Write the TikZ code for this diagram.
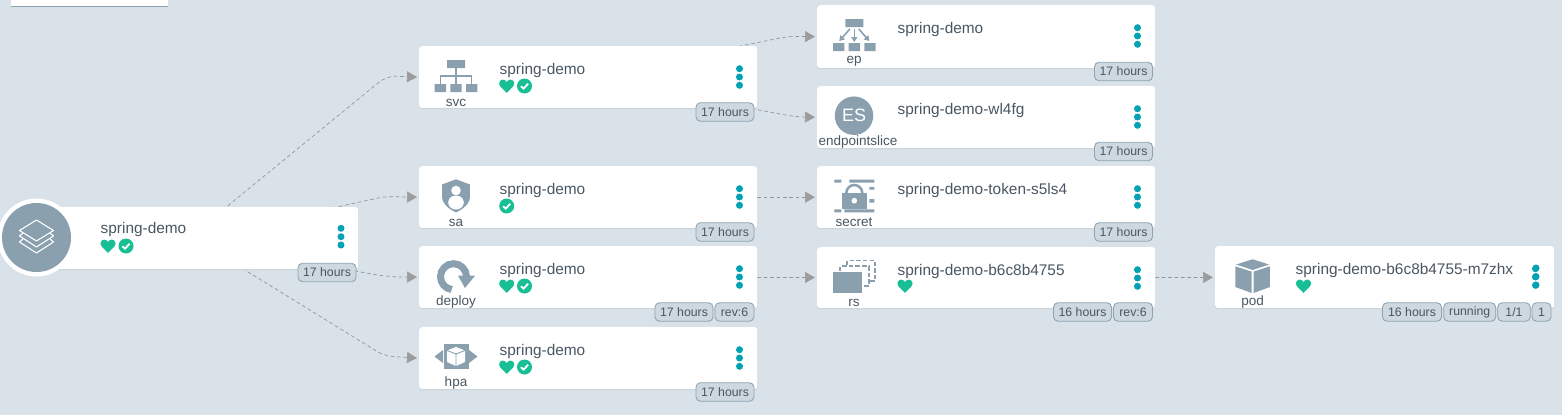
\documentclass[tikz,border=0pt]{standalone}
\usepackage{fontspec}
\setmainfont{Liberation Sans}
\usetikzlibrary{arrows.meta,shadows}
\definecolor{bgc}{HTML}{D9E2E9}
\definecolor{inkc}{HTML}{495763}
\definecolor{iconc}{HTML}{8AA0AE}
\definecolor{tealc}{HTML}{00A2B3}
\definecolor{greenc}{HTML}{18BE94}
\definecolor{tagf}{HTML}{CDD8E1}
\definecolor{tagd}{HTML}{8FA4B1}
\definecolor{edgec}{HTML}{8E979C}
\definecolor{tipc}{HTML}{9C9C9C}
\definecolor{shadc}{HTML}{C3CFD8}
\pgfdeclarelayer{background}
\pgfsetlayers{background,main}
\tikzset{
  card/.style={fill=white,rounded corners=3pt,inner sep=0pt,anchor=north west,
    copy shadow={shadow xshift=0pt,shadow yshift=-1pt,fill=shadc,draw=none,opacity=1}},
  cardname/.style={text=inkc,font=\fontsize{15.4}{17}\selectfont,anchor=west,inner sep=0pt},
  kindlabel/.style={text=inkc,font=\fontsize{13.5}{15}\selectfont,inner sep=0pt},
  tagbox/.style={fill=tagf,draw=tagd,line width=.9pt,rounded corners=4.5pt,text=inkc,
    font=\fontsize{12.3}{14}\selectfont,inner sep=0pt,minimum height=18.5pt},
  flow/.style={draw=edgec,line width=.7pt,dash pattern=on 3.6pt off 2.8pt,shorten >=2pt,
    -{Triangle[length=10pt,width=11pt,color=tipc,fill=tipc]}},
  dotc/.style={fill=tealc,draw=none},
  glyph/.style={fill=iconc,draw=none}
}
% card: name, x, top, width, height, label text
\newcommand\cardbox[6]{%
  \node[card,minimum width=#4pt,minimum height=#5pt] (#1) at (#2,#3) {};
  \begin{scope}[shift={(#2,#3)}]
    \node[cardname] (#1name) at (80.5,24.2) {#6};
    \fill[dotc] (320.5,22.7) circle (3.5pt) (320.5,31) circle (3.5pt) (320.5,39.3) circle (3.5pt);
  \end{scope}}
\newcommand\kindtext[4]{\node[kindlabel] (#1) at (#2,#3) {#4};}
\newcommand\hearticon[2]{%
  \fill[greenc,shift={(#1,#2)}] (0,6.8) -- (-6.3,0.6) .. controls (-9.3,-2.8) and (-6.3,-6.8) .. (-3.6,-6.4)
    .. controls (-2,-6.2) and (-0.8,-5.2) .. (0,-4) .. controls (0.8,-5.2) and (2,-6.2) .. (3.6,-6.4)
    .. controls (6.3,-6.8) and (9.3,-2.8) .. (6.3,0.6) -- cycle;}
\newcommand\checkicon[2]{%
  \fill[greenc] (#1,#2) circle (7.5pt);
  \draw[white,line width=1.8pt,shift={(#1,#2)}] (-3.6,0.2) -- (-1,2.6) -- (3.6,-2.2);}
\newcommand\tagat[5]{\node[tagbox,minimum width=#3pt] (#1) at (#2,#4) {#5};}
\begin{document}
\begin{tikzpicture}[x=1pt,y=-1pt]
\useasboundingbox (0,0) rectangle (1562,415);
% top-left panel
\node[fill=white,inner sep=0pt,minimum width=157pt,minimum height=6pt,anchor=north west,
  copy shadow={shadow xshift=0pt,shadow yshift=-1pt,fill=iconc,draw=none,opacity=1}] (panel) at (11,0) {};

% application
\node[card,minimum width=308pt,minimum height=62pt] (app) at (50,207) {};
\fill[white] (36.5,237.5) circle (39pt);
\node[circle,fill=iconc,minimum size=69pt,inner sep=0pt] (appicon) at (36.5,237.5) {};
\draw[white,line width=1.1pt,line join=round] (36.5,220) -- (53.5,230.5) -- (36.5,241) -- (19.5,230.5) -- cycle;
\draw[white,line width=1.1pt,line join=round] (23,233) -- (19.5,236) -- (36.5,247) -- (53.5,236) -- (50,233);
\draw[white,line width=1.1pt,line join=round] (23,239) -- (19.5,242) -- (36.5,253) -- (53.5,242) -- (50,239);
\node[cardname] (appname) at (100.5,229.2) {spring-demo};
\hearticon{108}{246}\checkicon{126}{246}
\fill[dotc] (341,228.3) circle (3.5pt) (341,236.7) circle (3.5pt) (341,245) circle (3.5pt);
\tagat{apptag}{327}{58}{272.5}{17 hours}

% svc
\cardbox{svc}{419}{46}{338}{62}{spring-demo}
\hearticon{506.7}{86}\checkicon{524.5}{86}
\kindtext{svckind}{456}{102.5}{svc}
\begin{scope}[shift={(456,46)}]
  \fill[glyph] (-9,14) rectangle (9,22) (-21.3,38) rectangle (-10,46) (-5.7,38) rectangle (5.7,46) (10,38) rectangle (21.3,46);
  \draw[iconc,line width=1.6pt] (0,22) -- (0,38) (-15.5,38) -- (-15.5,30) -- (15.5,30) -- (15.5,38);
\end{scope}
\tagat{svctag}{725}{58}{112}{17 hours}

% sa
\cardbox{sa}{419}{166}{338}{62}{spring-demo}
\checkicon{506.7}{206}
\kindtext{sakind}{456}{222.5}{sa}
\begin{scope}[shift={(456,166)}]
  \begin{scope}
    \clip (0,13.3) -- (14,18.5) -- (14,30) .. controls (14,38) and (7,43) .. (0,46.5) .. controls (-7,43) and (-14,38) .. (-14,30) -- (-14,18.5) -- cycle;
    \fill[glyph] (-15,12) rectangle (15,48);
    \fill[white] (0,36.5) ellipse (7.8pt and 7pt);
  \end{scope}
  \fill[white] (0,24.5) circle (4.8pt);
\end{scope}
\tagat{satag}{725}{58}{232}{17 hours}

% deploy
\cardbox{deploy}{419}{246}{338}{62}{spring-demo}
\hearticon{506.7}{286}\checkicon{524.5}{286}
\kindtext{deploykind}{456}{302.5}{deploy}
\begin{scope}[shift={(456,246)}]
  \draw[iconc,line width=7pt] (10.5,30.7) arc[start angle=0,end angle=262,radius=13pt];
  \fill[glyph] (2,29.7) -- (19,29.7) -- (9,42) -- cycle;
\end{scope}
\tagat{deploytag}{684}{58}{312}{17 hours}
\tagat{deployrev}{734.5}{39}{312}{rev:6}

% hpa
\cardbox{hpa}{419}{327}{338}{62}{spring-demo}
\hearticon{506.7}{367}\checkicon{524.5}{367}
\kindtext{hpakind}{456}{383.5}{hpa}
\begin{scope}[shift={(456,327)}]
  \fill[glyph] (-12.5,17) rectangle (12.5,42);
  \fill[glyph] (-21.5,29.5) -- (-13,23) -- (-13,36) -- cycle (21.5,29.5) -- (13,23) -- (13,36) -- cycle;
  \fill[white] (0,20) -- (9,23.5) -- (9,35) -- (0,39) -- (-9,35) -- (-9,23.5) -- cycle;
  \draw[iconc,line width=.9pt] (-9,23.5) -- (0,27) -- (9,23.5) (0,27) -- (0,39);
\end{scope}
\tagat{hpatag}{725}{58}{392}{17 hours}

% ep
\cardbox{ep}{817}{5}{338}{63}{spring-demo}
\kindtext{epkind}{854}{61.5}{ep}
\begin{scope}[shift={(854.3,5)}]
  \fill[glyph] (-9,14) rectangle (9,22) (-21.3,38) rectangle (-10,46) (-5.7,38) rectangle (5.7,46) (10,38) rectangle (21.3,46);
  \draw[iconc,line width=1.6pt,-{Triangle[length=5pt,width=6pt]}] (0,24) -- (0,37);
  \draw[iconc,line width=1.6pt,-{Triangle[length=5pt,width=6pt]}] (-4.5,24) -- (-15,36);
  \draw[iconc,line width=1.6pt,-{Triangle[length=5pt,width=6pt]}] (4.5,24) -- (15,36);
\end{scope}
\tagat{eptag}{1123.5}{58}{71.5}{17 hours}

% endpointslice
\cardbox{es}{817}{86}{338}{62}{spring-demo-wl4fg}
\node[circle,fill=iconc,minimum size=38.5pt,inner sep=0pt,text=white,font=\fontsize{18}{20}\selectfont] (esicon) at (854,115.7) {ES};
\kindtext{eskind}{858}{142}{endpointslice}
\tagat{estag}{1123.5}{58}{151.5}{17 hours}

% secret
\cardbox{secret}{817}{166}{338}{62}{spring-demo-token-s5ls4}
\kindtext{secretkind}{854}{222.5}{secret}
\begin{scope}[shift={(854.3,166)}]
  \fill[glyph] (-20,13.5) rectangle (-13,16.5) (-5,13.5) rectangle (20,16.5)
     (-20,43.3) rectangle (-13,46.3) (-10,43.3) rectangle (20,46.3)
     (15,21) rectangle (20,23.5) (15,33) rectangle (20,36.5);
  \draw[iconc,line width=2.5pt] (8,27) arc[start angle=0,end angle=180,radius=8pt];
  \fill[glyph] (-12.7,26.7) rectangle (13,43);
  \fill[white] (0,34.7) circle (2.8pt);
\end{scope}
\tagat{secrettag}{1123.5}{58}{232}{17 hours}

% rs
\cardbox{rs}{817}{247}{338}{61}{spring-demo-b6c8b4755}
\hearticon{905}{286}
\kindtext{rskind}{854}{302.5}{rs}
\begin{scope}[shift={(854.3,247)}]
  \draw[iconc,line width=1.8pt,dash pattern=on 4.5pt off 2.2pt] (-7,18) -- (-7,13.5) -- (21,13.5) -- (21,34) -- (16,34);
  \draw[iconc,line width=1.8pt,dash pattern=on 4.5pt off 2.2pt] (-14,24) -- (-14,19) -- (14.5,19) -- (14.5,39) -- (9,39);
  \fill[glyph] (-21.3,24.7) rectangle (8,45.7);
\end{scope}
\tagat{rstag}{1082.5}{58}{312}{16 hours}
\tagat{rsrev}{1133}{39}{312}{rev:6}

% pod
\cardbox{pod}{1215}{246}{339}{62}{spring-demo-b6c8b4755-m7zhx}
\fill[dotc] (1536,268) circle (3.5pt) (1536,276.5) circle (3.5pt) (1536,285) circle (3.5pt);
\hearticon{1303.5}{286}
\kindtext{podkind}{1252.5}{302.5}{pod}
\begin{scope}[shift={(1252.6,246)}]
  \fill[glyph] (0,13.3) -- (16.5,18.5) -- (0,24) -- (-16.5,18.5) -- cycle;
  \fill[glyph] (-17.3,20.3) -- (-1,25.6) -- (-1,47) -- (-17.3,41) -- cycle;
  \fill[glyph] (17.3,20.3) -- (1,25.6) -- (1,47) -- (17.3,41) -- cycle;
\end{scope}
\tagat{podage}{1412}{59}{312}{16 hours}
\tagat{podstat}{1469.7}{52}{312}{running}
\tagat{podready}{1514}{32.5}{312}{1/1}
\tagat{podcount}{1541.5}{19}{312}{1}

% connectors
\begin{pgfonlayer}{background}
  \fill[bgc] (0,0) rectangle (1562,415);
  \draw[flow] ([xshift=-16pt]app.center) -- (378,83) .. controls (389,74) and (398,76.5) .. (svc.west);
  \draw[flow] ([xshift=-9pt]app.center) -- (378,198) .. controls (390,195.7) and (402,197) .. (sa.west);
  \draw[flow] ([xshift=-39pt]app.center) -- (378,275) .. controls (390,277) and (402,277) .. (deploy.west);
  \draw[flow] ([xshift=-11pt]app.center) -- (378,352) .. controls (386,357) and (400,357) .. (hpa.west);
  \draw[flow] (svc.center) -- (780,38) .. controls (790,36) and (800,36.5) .. (ep.west);
  \draw[flow] (svc.center) -- (780,114) .. controls (790,116) and (800,117) .. (es.west);
  \draw[flow] (sa) -- (secret);
  \draw[flow] (deploy) -- (rs);
  \draw[flow] (rs) -- (pod);
\end{pgfonlayer}
\end{tikzpicture}
\end{document}
